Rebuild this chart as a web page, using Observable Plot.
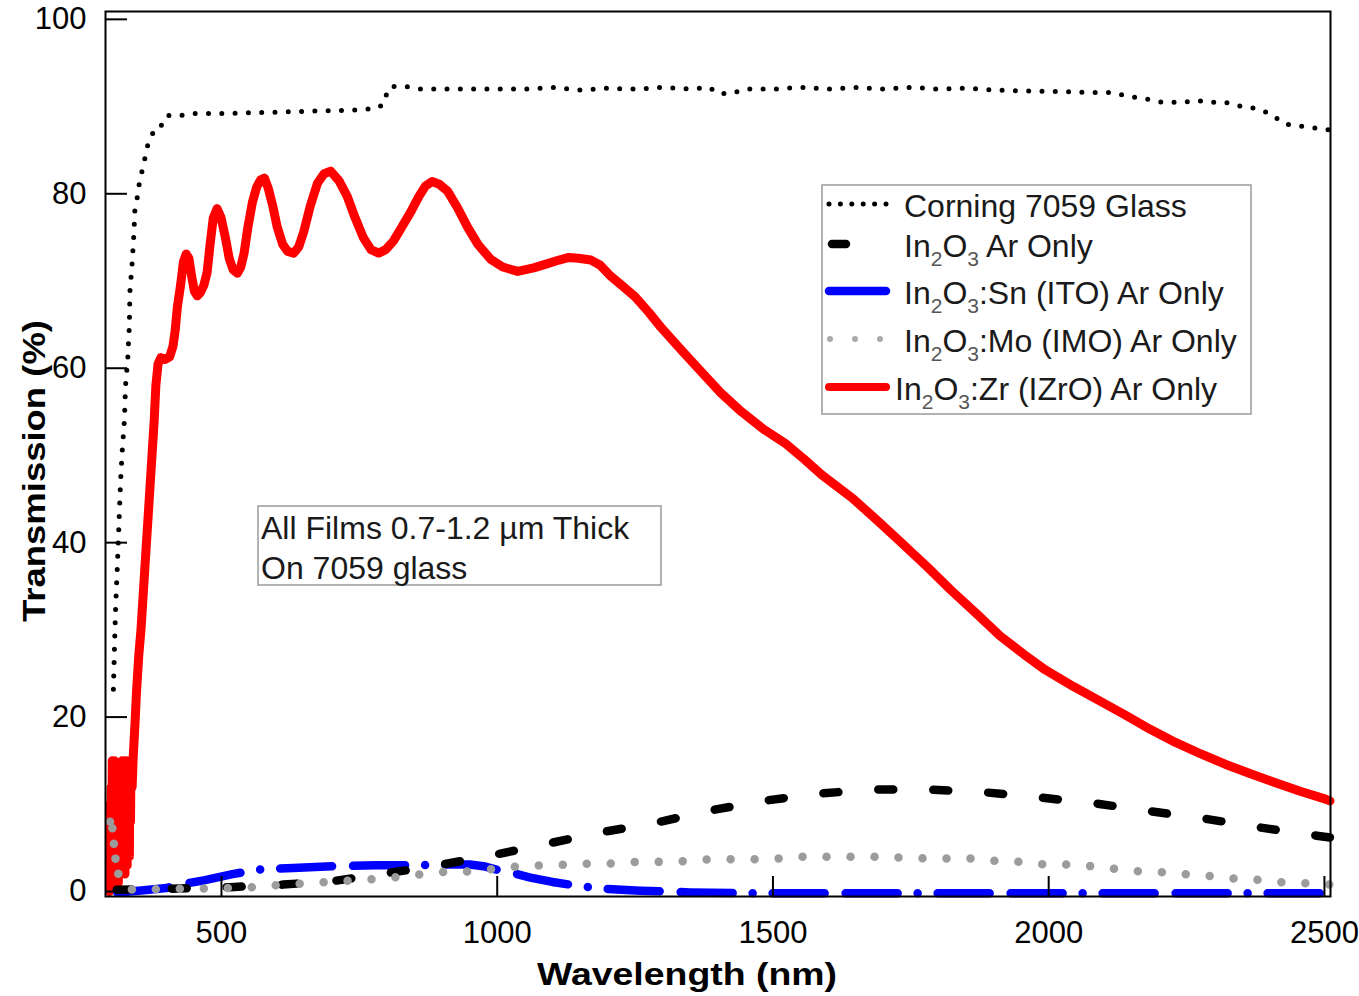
<!DOCTYPE html>
<html><head><meta charset="utf-8">
<script src="https://cdn.jsdelivr.net/npm/d3@7"></script>
<script src="https://cdn.jsdelivr.net/npm/@observablehq/plot@0.6"></script>
<style>
html,body{margin:0;padding:0;background:#fff;}
#chart{width:1359px;height:996px;}
</style></head><body><div id="chart"></div>
<script>
// ---- data (wavelength nm, transmission %) ----
const glassNm = [304,306,308,311,314,317,320,324,326,330,333,334,338,341,343,348,351,357,362,367,378,389,396,405,421,445,500,560,620,680,740,783,796,801,810,834,860,950,1050,1100,1150,1200,1250,1300,1350,1385,1400,1425,1450,1500,1550,1600,1650,1700,1750,1800,1850,1900,1950,2043,2067,2112,2137,2160,2183,2205,2245,2268,2292,2320,2342,2365,2386,2406,2427,2452,2474,2502,2510];
const glassT  = [23.2,28,32.5,37,42,47,50.5,54,58,61,65,68.8,72,75.2,78.2,79.8,81.2,82.9,84.3,85.8,87.3,87.5,88.7,89,88.9,89.2,89.2,89.3,89.4,89.5,89.6,89.8,90.4,92,92.3,92.3,92.0,92.0,92.0,92.2,91.9,92.1,92.0,92.2,92.0,92.2,91.5,91.5,92.0,92.0,92.2,92.0,92.2,92.0,92.2,92.0,92.1,91.9,91.8,91.7,91.6,91.6,91.3,91.0,90.8,90.5,90.5,90.7,90.5,90.5,90.1,89.9,89.6,89.0,88.0,87.8,87.6,87.4,87.3];

const in2o3Nm = [310,400,516,612,703,788,874,979,1078,1180,1281,1387,1483,1579,1679,1778,1880,1981,2085,2184,2288,2388,2486,2510];
const in2o3T  = [0.2,0.3,0.5,0.8,1.2,2.0,2.8,4.0,5.3,6.7,7.8,9.3,10.4,11.2,11.7,11.7,11.4,10.8,10.1,9.2,8.3,7.3,6.4,6.2];

const itoNm = [311,350,400,425,470,520,565,630,700,780,850,900,950,975,1000,1030,1060,1100,1150,1200,1260,1350,1450,2510];
const itoT  = [-0.1,0.1,0.4,0.8,1.3,2.0,2.5,2.7,2.9,3.0,3.0,3.1,3.1,2.9,2.5,2.1,1.6,1.1,0.6,0.3,0.1,-0.1,-0.2,-0.2];

const imoNm = [298,300,302,304,306,308,310,313,316,320,340,400,462,547,589,676,712,757,788,828,866,910,951,997,1039,1084,1127,1169,1211,1255,1301,1345,1387,1428,1474,1517,1559,1604,1646,1689,1728,1780,1822,1863,1907,1952,1992,2034,2078,2121,2165,2208,2246,2290,2330,2371,2411,2453,2498,2510];
const imoT  = [8,6.5,7.5,5,6,3.5,4,2,1.5,0.5,0.2,0.3,0.35,0.45,0.7,1.0,1.2,1.3,1.5,1.7,2.0,2.3,2.3,2.6,2.9,3.0,3.1,3.2,3.2,3.4,3.4,3.5,3.7,3.7,3.7,3.8,4.0,4.0,4.0,4.0,3.9,3.8,3.8,3.8,3.5,3.4,3.1,3.1,2.9,2.6,2.3,2.2,2.0,1.8,1.5,1.4,1.1,1.0,0.8,0.8];

const izroNm = [297,298,299,300,301,302,303,304,305,306,307,308,309,310,311,312,313,314,315,316,317,318,319,320,321,322,323,324,325,326,327,328,329,330,331,332,333,334,335,336,338,340,343,346,350,354,358,362,366,370,374,378,381,385,390,398,406,412,416,420,426,431,436,441,446,451,456,462,468,474,479,485,492,499,507,514,521,529,535,541,548,556,564,571,578,585,593,601,611,620,631,640,649,661,674,686,698,713,728,742,757,771,785,798,812,827,843,858,870,882,895,910,928,946,965,988,1010,1037,1066,1087,1112,1130,1147,1170,1187,1205,1224,1250,1275,1298,1335,1370,1405,1443,1483,1524,1556,1588,1646,1690,1731,1780,1822,1870,1912,1955,1994,2045,2094,2140,2184,2230,2275,2320,2366,2410,2456,2502,2510];
const izroT  = [0,10,1,12,2,15,3,14,1,15,4,13,2,14,3,13,1,13.5,4,14,2,13,5,15,3,14,6,15,2,14,5,15,3,14,6,15,4,14,8,15,12,15.5,19,23,27,30,34,38,42,46,50,54,58,60.5,61.2,61,61.3,62.5,64.3,67,69.6,72.2,73.1,72.6,70.5,68.8,68.3,68.7,69.5,71,74,77.2,78.3,77.3,75,72.6,71.3,70.9,71.6,73.2,76.2,79,80.8,81.6,81.8,80.6,78.6,76.2,74.2,73.4,73.2,73.9,75.6,78.6,81.2,82.3,82.6,81.5,79.7,77.3,75,73.6,73.2,73.6,74.6,76.2,77.9,79.7,80.9,81.4,81.1,80.3,78.4,76.2,74.2,72.5,71.6,71.1,71.5,71.9,72.4,72.7,72.6,72.4,71.8,70.6,69.6,68.2,66.4,64.6,62,59.6,57.2,55,53,51.3,49.6,47.8,45,42.5,40.1,37.2,34.6,31.8,29.3,27.2,25.4,23.5,21.8,20.2,18.6,17.1,15.8,14.6,13.5,12.5,11.5,10.6,10.4];

const xTicks = [500,1000,1500,2000,2500];
const yTicks = [0,20,40,60,80,100];
const legendLabels = ["Corning 7059 Glass","In2O3 Ar Only","In2O3:Sn (ITO) Ar Only","In2O3:Mo (IMO) Ar Only","In2O3:Zr (IZrO) Ar Only"];
const noteLines = ["All Films 0.7-1.2 µm Thick","On 7059 glass"];

// ---- build tables ----
const toRows = (xs, ys) => xs.map((x, i) => ({nm: x, T: ys[i]}));
const glass = toRows(glassNm, glassT);
const in2o3 = toRows(in2o3Nm, in2o3T);
const ito = toRows(itoNm, itoT);
const imo = toRows(imoNm, imoT);
const izro = toRows(izroNm, izroT);

const W = 1359, H = 996, mL = 105, mR = 29, mT = 11, mB = 100;
const plotW = W - mL - mR, plotH = H - mT - mB;
const FONT = "'Liberation Sans', Arial, Helvetica, sans-serif";

const styles = {
  glass: {stroke: "#000", strokeWidth: 5, strokeDasharray: "0 13.3", strokeLinecap: "round"},
  in2o3: {stroke: "#000", strokeWidth: 8.5, strokeDasharray: "15 40", strokeLinecap: "round"},
  ito:   {stroke: "#0000ff", strokeWidth: 8.5, strokeDasharray: "52 21 52 20 0 20", strokeLinecap: "round"},
  imo:   {stroke: "#9c9c9c", strokeWidth: 8.5, strokeDasharray: "0 24", strokeLinecap: "round"},
  izro:  {stroke: "#ff0000", strokeWidth: 9, strokeLinecap: "round", strokeLinejoin: "round"}
};

const plot = Plot.plot({
  width: W, height: H,
  marginLeft: mL, marginRight: mR, marginTop: mT, marginBottom: mB,
  x: {domain: [289.7, 2511]},
  y: {domain: [-0.57, 100.9]},
  style: {fontFamily: FONT, background: "#fff", color: "#000", overflow: "visible"},
  marks: [
    Plot.line(izro, {x: "nm", y: "T", ...styles.izro}),
    Plot.line(ito, {x: "nm", y: "T", ...styles.ito}),
    Plot.line(in2o3, {x: "nm", y: "T", ...styles.in2o3}),
    Plot.line(imo, {x: "nm", y: "T", ...styles.imo}),
    Plot.line(glass, {x: "nm", y: "T", ...styles.glass}),
    Plot.frame({stroke: "#000", strokeWidth: 2}),
    Plot.tickY(yTicks, {y: d => d, insetRight: plotW - 22, stroke: "#000", strokeWidth: 2}),
    Plot.tickX(xTicks, {x: d => d, insetTop: plotH - 20, stroke: "#000", strokeWidth: 2}),
    Plot.axisY(yTicks, {tickSize: 0, tickPadding: 19, fontSize: 31, label: null, tickFormat: d => String(d)}),
    Plot.axisX(xTicks, {tickSize: 0, tickPadding: 24, fontSize: 31, label: null, tickFormat: d => String(d)})
  ]
});
document.getElementById("chart").appendChild(plot);

// ---- axis titles, legend, note ----
const svg = d3.select(plot);
svg.append("text")
  .attr("x", 537).attr("y", 985).attr("text-anchor", "start")
  .attr("font-family", FONT).attr("font-weight", "bold").attr("font-size", 31)
  .attr("textLength", 300).attr("lengthAdjust", "spacingAndGlyphs")
  .attr("fill", "#000")
  .text("Wavelength (nm)");
svg.append("text")
  .attr("transform", "translate(45,622) rotate(-90)").attr("text-anchor", "start")
  .attr("font-family", FONT).attr("font-weight", "bold").attr("font-size", 32)
  .attr("textLength", 302).attr("lengthAdjust", "spacingAndGlyphs")
  .attr("fill", "#000")
  .text("Transmission (%)");

// legend box
const lg = svg.append("g").attr("text-anchor", "start");
lg.append("rect").attr("x", 822).attr("y", 185).attr("width", 429).attr("height", 229)
  .attr("fill", "#fff").attr("stroke", "#9a9a9a").attr("stroke-width", 1.5);
const rowsY = [206, 246, 293, 341, 389];
const textX = [904, 904, 904, 904, 895];
const sampleKeys = ["glass", "in2o3", "ito", "imo", "izro"];
const sampleX = [[829, 886], [832, 846], [829, 886], [830, 882], [829, 886]];
const sampleDash = ["0 11.4", null, null, "0 25", null];
sampleKeys.forEach((k, i) => {
  const s = styles[k];
  const ln = lg.append("line")
    .attr("x1", sampleX[i][0]).attr("x2", sampleX[i][1])
    .attr("y1", rowsY[i] - 2).attr("y2", rowsY[i] - 2)
    .attr("stroke", k === "imo" ? "#aaaaaa" : s.stroke)
    .attr("stroke-width", k === "imo" ? 6 : (k === "izro" ? 8 : s.strokeWidth))
    .attr("stroke-linecap", "round");
  if (sampleDash[i]) ln.attr("stroke-dasharray", sampleDash[i]);
});
legendLabels.forEach((lab, i) => {
  const t = lg.append("text")
    .attr("x", textX[i]).attr("y", rowsY[i] + 11).attr("text-anchor", "start")
    .attr("font-family", FONT).attr("font-size", 32).attr("fill", "#1a1a1a");
  const m = lab.match(/^In2O3(.*)$/);
  if (m) {
    t.append("tspan").text("In");
    t.append("tspan").attr("dy", 9).attr("font-size", 21).attr("fill", "#555").text("2");
    t.append("tspan").attr("dy", -9).text("O");
    t.append("tspan").attr("dy", 9).attr("font-size", 21).attr("fill", "#555").text("3");
    t.append("tspan").attr("dy", -9).text((m[1].startsWith(":") ? "" : " ") + m[1].trim());
  } else {
    t.text(lab);
  }
});

// note box
const ng = svg.append("g").attr("text-anchor", "start");
ng.append("rect").attr("x", 258).attr("y", 506).attr("width", 403).attr("height", 79)
  .attr("fill", "#fff").attr("stroke", "#9a9a9a").attr("stroke-width", 1.5);
noteLines.forEach((s, i) => {
  ng.append("text").attr("x", 261).attr("y", 539 + i * 40).attr("text-anchor", "start")
    .attr("font-family", FONT).attr("font-size", 32).attr("fill", "#1a1a1a")
    .text(s);
});
</script>
</body></html>
